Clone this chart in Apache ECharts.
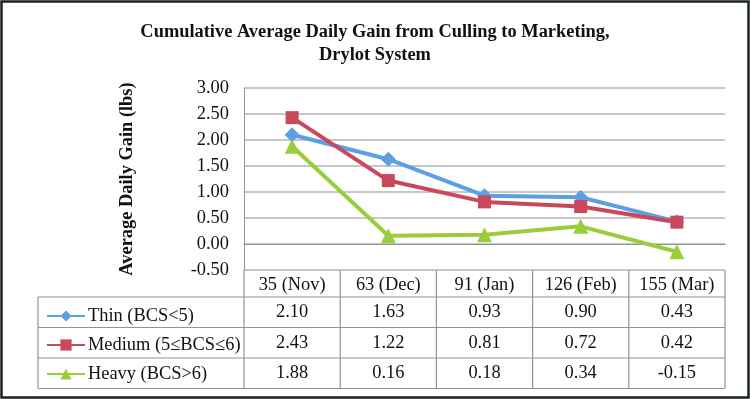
<!DOCTYPE html>
<html>
<head>
<meta charset="utf-8">
<script src="https://cdn.jsdelivr.net/npm/echarts@6/dist/echarts.min.js"></script>
<style>
  html, body { margin: 0; padding: 0; background: #fff; }
  #main { width: 750px; height: 399px; }
</style>
</head>
<body>
<div id="main"></div>
<script>
// data
var categories = ['35 (Nov)', '63 (Dec)', '91 (Jan)', '126 (Feb)', '155 (Mar)'];
var seriesNames = ['Thin (BCS<5)', 'Medium (5\u2264BCS\u22646)', 'Heavy (BCS>6)'];
var thinData = [2.10, 1.63, 0.93, 0.90, 0.43];
var mediumData = [2.43, 1.22, 0.81, 0.72, 0.42];
var heavyData = [1.88, 0.16, 0.18, 0.34, -0.15];
var yMin = -0.5, yMax = 3, yStep = 0.5;

var colors = ['#5ca0e2', '#c9485b', '#9acd3a'];
var serif = 'Liberation Serif';
var fs = 18.4;
var gridLine = '#b3b6b6';
var tableLine = '#8f9494';

var myChart = echarts.init(document.getElementById('main'));

function lineSeries(name, data, symbol, size, color) {
    return {
        name: name,
        type: 'line',
        data: data,
        symbol: symbol,
        symbolSize: size,
        z: 3,
        lineStyle: { width: 4, color: color },
        itemStyle: { color: color }
    };
}

var option = {
    animation: false,
    title: {
        text: 'Cumulative Average Daily Gain from Culling to Marketing,\nDrylot System',
        left: 'center',
        top: 16,
        textStyle: { fontFamily: serif, fontSize: fs, fontWeight: 'bold', color: '#111', lineHeight: 23 }
    },
    legend: {
        orient: 'vertical',
        left: 41,
        top: 302,
        itemWidth: 38,
        itemHeight: 14,
        itemGap: 11,
        textStyle: { fontFamily: serif, fontSize: fs, color: '#111', padding: [0, 0, 0, -2] },
        data: seriesNames
    },
    grid: { left: 244, right: 25, top: 88, bottom: 129 },
    xAxis: {
        type: 'category',
        data: categories,
        boundaryGap: true,
        axisLine: { lineStyle: { color: tableLine, width: 1 } },
        axisTick: { show: false },
        axisLabel: { interval: 0, hideOverlap: false, fontFamily: serif, fontSize: fs, color: '#111', margin: 6 }
    },
    yAxis: {
        type: 'value',
        min: yMin,
        max: yMax,
        interval: yStep,
        name: 'Average Daily Gain (lbs)',
        nameLocation: 'middle',
        nameGap: 108,
        nameTextStyle: { fontFamily: serif, fontSize: fs, fontWeight: 'bold', color: '#111' },
        axisLine: { show: true, lineStyle: { color: tableLine } },
        axisTick: { show: false },
        axisLabel: {
            fontFamily: serif, fontSize: fs, color: '#111', margin: 15,
            formatter: function (v) { return v.toFixed(2); }
        },
        splitLine: { lineStyle: { color: gridLine, width: 1.5 } }
    },
    series: [
        lineSeries(seriesNames[0], thinData, 'diamond', 15, colors[0]),
        lineSeries(seriesNames[1], mediumData, 'rect', 13, colors[1]),
        lineSeries(seriesNames[2], heavyData, 'triangle', 15, colors[2])
    ]
};
myChart.setOption(option);

// data table under the axis
function buildTable() {
    var rows = [thinData, mediumData, heavyData];
    var x0 = myChart.convertToPixel({ xAxisIndex: 0 }, 0);
    var x1 = myChart.convertToPixel({ xAxisIndex: 0 }, 1);
    var band = x1 - x0;
    var gridLeft = x0 - band / 2;
    var gridRight = gridLeft + band * categories.length;
    var axisY = myChart.convertToPixel({ yAxisIndex: 0 }, yMin);
    var headH = 27, rowH = 30.5, tableLeft = 38;
    var els = [];
    var ys = [axisY + headH];
    for (var r = 0; r < rows.length; r++) ys.push(axisY + headH + rowH * (r + 1));
    var bottom = ys[ys.length - 1];

    // horizontal lines
    ys.forEach(function (y) {
        els.push({ type: 'line', shape: { x1: tableLeft, y1: y, x2: gridRight, y2: y },
            style: { stroke: tableLine, lineWidth: 1.2 } });
    });
    // vertical lines
    for (var c = 0; c <= categories.length; c++) {
        var x = gridLeft + band * c;
        els.push({ type: 'line', shape: { x1: x, y1: axisY, x2: x, y2: bottom },
            style: { stroke: tableLine, lineWidth: 1.2 } });
    }
    els.push({ type: 'line', shape: { x1: tableLeft, y1: ys[0], x2: tableLeft, y2: bottom },
        style: { stroke: tableLine, lineWidth: 1.2 } });

    // values
    rows.forEach(function (vals, r) {
        var cy = ys[r] + rowH / 2;
        vals.forEach(function (v, i) {
            els.push({ type: 'text', x: myChart.convertToPixel({ xAxisIndex: 0 }, i), y: cy,
                style: { text: v.toFixed(2), fontFamily: serif, fontSize: fs, fill: '#111',
                    align: 'center', verticalAlign: 'middle' } });
        });
    });

    // outer frame
    els.push({ type: 'rect', shape: { x: 1.5, y: 1.5, width: 747, height: 396 },
        style: { fill: 'none', stroke: '#1a2222', lineWidth: 2.5 } });

    myChart.setOption({ graphic: els });
}
buildTable();
</script>
</body>
</html>
